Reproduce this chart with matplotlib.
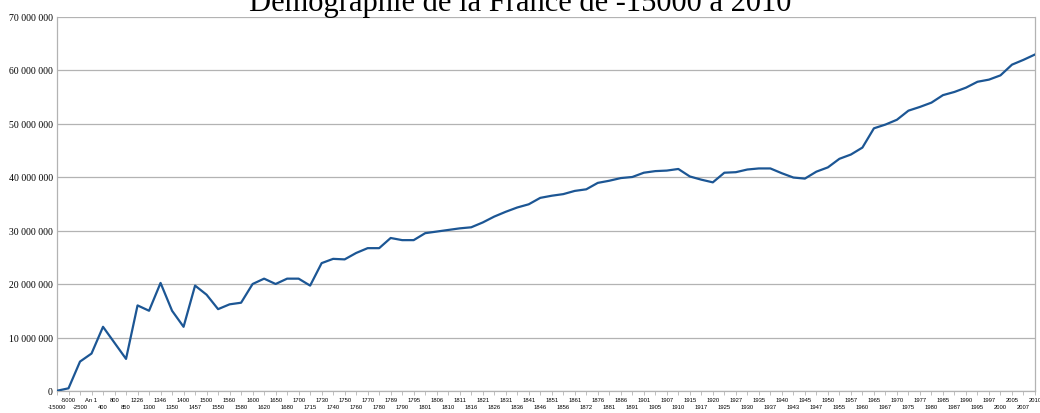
import matplotlib
matplotlib.use("Agg")
import matplotlib.pyplot as plt
from matplotlib.ticker import FuncFormatter, MultipleLocator

categories = ["-15000", "-5000", "-2500", "An 1", "400", "800", "850", "1226", "1300", "1346",
              "1350", "1400", "1457", "1500", "1550", "1560", "1580", "1600", "1620", "1650",
              "1680", "1700", "1715", "1730", "1740", "1750", "1760", "1770", "1780", "1789",
              "1790", "1795", "1801", "1806", "1810", "1811", "1816", "1821", "1826", "1831",
              "1836", "1841", "1846", "1851", "1856", "1861", "1872", "1876", "1881", "1886",
              "1891", "1901", "1905", "1907", "1910", "1915", "1917", "1920", "1925", "1927",
              "1930", "1935", "1937", "1940", "1943", "1945", "1947", "1950", "1955", "1957",
              "1960", "1965", "1967", "1970", "1975", "1977", "1980", "1985", "1987", "1990",
              "1995", "1997", "2000", "2005", "2007", "2010"]

population = [50000, 500000, 5500000, 7000000, 12000000, 9000000, 6000000, 16000000, 15000000, 20200000,
              15000000, 12000000, 19700000, 18000000, 15300000, 16200000, 16500000, 20000000, 21000000, 20000000,
              21000000, 21000000, 19700000, 23900000, 24700000, 24600000, 25800000, 26700000, 26700000, 28600000,
              28200000, 28200000, 29500000, 29800000, 30100000, 30400000, 30600000, 31500000, 32600000, 33500000,
              34300000, 34900000, 36100000, 36500000, 36800000, 37400000, 37700000, 38900000, 39300000, 39800000,
              40000000, 40800000, 41100000, 41200000, 41500000, 40100000, 39500000, 39000000, 40800000, 40900000,
              41400000, 41600000, 41600000, 40700000, 39900000, 39700000, 41000000, 41800000, 43400000, 44200000,
              45500000, 49100000, 49800000, 50700000, 52400000, 53100000, 53900000, 55300000, 55900000, 56700000,
              57800000, 58200000, 59000000, 61000000, 61900000, 62900000]

title = "Démographie de la France de -15000 à 2010"

W, H = 1040, 414
fig = plt.figure(figsize=(W / 100, H / 100), dpi=100)
ax = fig.add_axes([57 / W, (H - 392) / H, (1035 - 57) / W, (392 - 17.5) / H])

x = list(range(len(categories)))
ax.plot(x, population, color="#1c5694", lw=1.6, solid_joinstyle="round", zorder=3)

ax.set_xlim(0, len(categories) - 1)
ax.set_ylim(0, 70000000)
ax.yaxis.set_major_locator(MultipleLocator(10000000))

def fmt(v, pos):
    v = int(round(v))
    if v == 0:
        return "0"
    return f"{v:,}".replace(",", " ")

ax.yaxis.set_major_formatter(FuncFormatter(fmt))
ax.grid(axis="y", color="#b3b3b3", lw=0.9, zorder=0)
ax.set_axisbelow(True)

ax.set_xticks(x)
labels = [("\n" + c) if i % 2 == 0 else c for i, c in enumerate(categories)]
ax.set_xticklabels(labels, fontsize=4.2, family="Liberation Sans", linespacing=1.55)
ax.tick_params(axis="x", length=3, width=0.6, color="#b3b3b3", pad=1)
ax.tick_params(axis="y", length=0, pad=3)
for lab in ax.get_yticklabels():
    lab.set_fontfamily("Liberation Serif")
    lab.set_fontsize(7)

for s in ["left", "right", "bottom", "top"]:
    ax.spines[s].set_color("#b3b3b3")
    ax.spines[s].set_linewidth(0.9)
ax.spines["top"].set_visible(False)

fig.text(0.5, 1 - 10.7 / H, title, ha="center", va="baseline",
         family="Liberation Serif", fontsize=22, color="black")

fig.savefig("out.png", dpi=100)
